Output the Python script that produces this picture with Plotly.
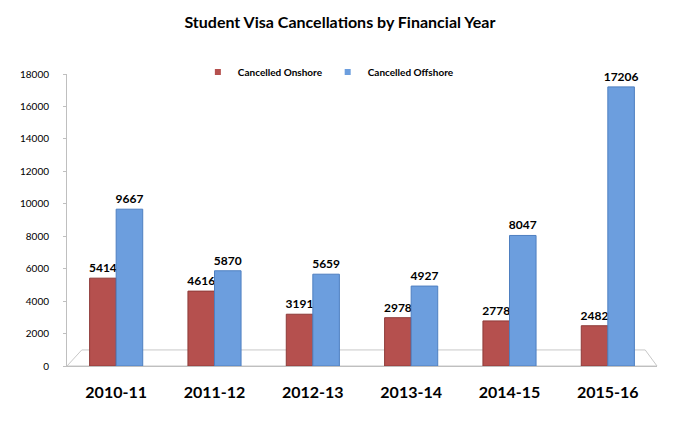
import plotly.graph_objects as go

# Dados do gráfico
years = ['2010-11', '2011-12', '2012-13', '2013-14', '2014-15', '2015-16']
onshore = [5414, 4616, 3191, 2978, 2778, 2482]
offshore = [9667, 5870, 5659, 4927, 8047, 17206]
y_ticks = [0, 2000, 4000, 6000, 8000, 10000, 12000, 14000, 16000, 18000]

red = '#B5504E'
blue = '#6C9EDE'

fig = go.Figure()
fig.add_trace(go.Bar(
    x=years, y=onshore, name='Cancelled Onshore', showlegend=False,
    marker=dict(color=red, line=dict(color='#8E3A38', width=1)),
    texttemplate='<b>%{y}</b>', textposition='outside', cliponaxis=False,
    textfont=dict(family='Lato', size=12, color='black'),
))
fig.add_trace(go.Bar(
    x=years, y=offshore, name='Cancelled Offshore', showlegend=False,
    marker=dict(color=blue, line=dict(color='#4E7FC0', width=1)),
    texttemplate='<b>%{y}</b>', textposition='outside', cliponaxis=False,
    textfont=dict(family='Lato', size=12, color='black'),
))
# entradas da legenda com quadradinhos pequenos
for name, color in [('Cancelled Onshore', red), ('Cancelled Offshore', blue)]:
    fig.add_trace(go.Scatter(
        x=[None], y=[None], mode='markers', name='<b>' + name + '</b>',
        marker=dict(symbol='square', size=6, color=color),
    ))

# "piso" 3D cinza claro atrás das barras
fig.add_shape(type='path', xref='paper', yref='paper',
              path='M 0 0 L 1 0 L 0.98 0.055 L 0.025 0.055 Z',
              line=dict(color='#C8C8C8', width=1), fillcolor='rgba(0,0,0,0)',
              layer='below')

# a página tem margem de 8px no body, por isso as margens compensam
fig.update_layout(
    width=683, height=423,
    margin=dict(l=49, r=34, t=66, b=65),
    paper_bgcolor='white', plot_bgcolor='white',
    font=dict(family='Lato', color='black'),
    title=dict(text='<b>Student Visa Cancellations by Financial Year</b>',
               x=0.486, xanchor='center', y=0.967, yanchor='middle',
               font=dict(family='Lato', size=16, color='black')),
    barmode='group', bargap=0.46, bargroupgap=0,
    uniformtext=dict(minsize=12, mode='show'),
    legend=dict(orientation='h', x=0.443, xanchor='center', y=1.007, yanchor='middle',
                font=dict(family='Lato', size=10, color='black'),
                bgcolor='rgba(0,0,0,0)', itemwidth=30),
    showlegend=True,
)
fig.update_xaxes(
    type='category',
    showline=True, linecolor='#BFBFBF', linewidth=1,
    ticks='', ticklabelstandoff=12,
    tickfont=dict(family='Lato', size=16, color='black'),
    tickprefix='<b>', ticksuffix='</b>',
)
fig.update_yaxes(
    range=[0, 18000], tickvals=y_ticks, tickformat='d',
    showgrid=False, zeroline=False,
    showline=True, linecolor='#BFBFBF', linewidth=1,
    ticks='outside', tickcolor='#BFBFBF', ticklen=3,
    ticklabelstandoff=12,
    tickfont=dict(family='Lato', size=10, color='black'),
    tickprefix='<b>', ticksuffix='</b>',
)

fig.write_html('out.html')
